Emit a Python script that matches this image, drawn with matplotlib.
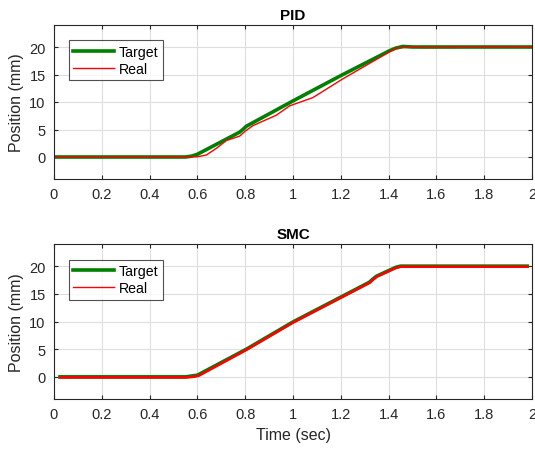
import numpy as np
import matplotlib.pyplot as plt

plt.rcParams['font.family'] = ['Liberation Sans', 'DejaVu Sans']

# PID response
pid_t_target = [0.0, 0.55, 0.575, 0.6, 0.776, 0.79, 0.805, 1.0, 1.2, 1.403,
                1.43, 1.46, 1.5, 2.0]
pid_target = [0.0, 0.0, 0.15, 0.5, 4.5, 5.0, 5.6, 10.2, 14.8, 19.3,
              19.8, 20.1, 20.0, 20.0]
pid_t_real = [0.0, 0.56, 0.6, 0.637, 0.68, 0.721, 0.777, 0.8, 0.832, 0.93,
              0.986, 1.083, 1.208, 1.375, 1.431, 1.486, 1.55, 2.0]
pid_real = [0.0, 0.0, 0.05, 0.36, 1.6, 3.0, 3.8, 4.7, 5.7, 7.6,
            9.3, 10.8, 14.2, 18.4, 19.8, 20.0, 19.9, 20.0]

# SMC response
smc_t_target = [0.025, 0.55, 0.575, 0.6, 0.805, 0.999, 1.32, 1.335, 1.35,
                1.431, 1.45, 1.98]
smc_target = [0.0, 0.0, 0.15, 0.3, 5.0, 9.9, 17.1, 17.7, 18.2, 19.8, 20.0, 20.0]
smc_t_real = [0.025, 0.55, 0.58, 0.605, 0.805, 0.999, 1.32, 1.335, 1.35,
              1.431, 1.45, 1.98]
smc_real = [-0.1, -0.1, 0.0, 0.2, 4.9, 9.8, 17.0, 17.6, 18.1, 19.7, 19.9, 19.9]

x_ticks = [0, 0.2, 0.4, 0.6, 0.8, 1, 1.2, 1.4, 1.6, 1.8, 2]
x_tick_labels = ['0', '0.2', '0.4', '0.6', '0.8', '1', '1.2', '1.4', '1.6', '1.8', '2']
y_ticks = [0, 5, 10, 15, 20]

fig = plt.figure(figsize=(5.35, 4.52), dpi=100)
W, H = 535.0, 452.0
ax1 = fig.add_axes([54 / W, 1 - 180 / H, 478 / W, 154 / H])
ax2 = fig.add_axes([54 / W, 1 - 400 / H, 478 / W, 155 / H])

panels = [(ax1, 'PID', pid_t_target, pid_target, pid_t_real, pid_real, False),
          (ax2, 'SMC', smc_t_target, smc_target, smc_t_real, smc_real, True)]

for ax, title, tt, yt, tr, yr, thick_real in panels:
    ax.plot(tt, yt, color='#008000', lw=2.6, label='Target')
    ax.plot(tr, yr, color='#ff0000', lw=1.9 if thick_real else 1.0,
            label='Real')
    ax.set_xlim(0, 2)
    ax.set_ylim(-4, 24)
    ax.set_xticks(x_ticks)
    ax.set_xticklabels(x_tick_labels)
    ax.set_yticks(y_ticks)
    ax.grid(True, color='#dedede', lw=0.8)
    ax.set_axisbelow(True)
    ax.tick_params(direction='in', top=True, right=True, length=3,
                   labelsize=10.5, color='#262626', labelcolor='#262626',
                   width=0.8, pad=6)
    for s in ax.spines.values():
        s.set_color('#262626')
        s.set_linewidth(0.8)
    ax.set_title(title, fontsize=11, fontweight='bold', pad=4)
    ax.set_ylabel('Position (mm)', fontsize=11.5, color='#262626')
    leg = ax.legend(loc='upper left', bbox_to_anchor=(0.031, 0.9),
                    fontsize=10.2, frameon=True, fancybox=False,
                    handlelength=2.9, borderpad=0.3, labelspacing=0.25,
                    handletextpad=0.35, borderaxespad=0)
    leg.get_frame().set_edgecolor('#262626')
    leg.get_frame().set_linewidth(0.8)
    # make legend handles look like MATLAB (thick target, thin real)
    leg.get_lines()[1].set_linewidth(1.0)

ax2.set_xlabel('Time (sec)', fontsize=11.5, color='#262626')

fig.savefig('out.png', dpi=100)
